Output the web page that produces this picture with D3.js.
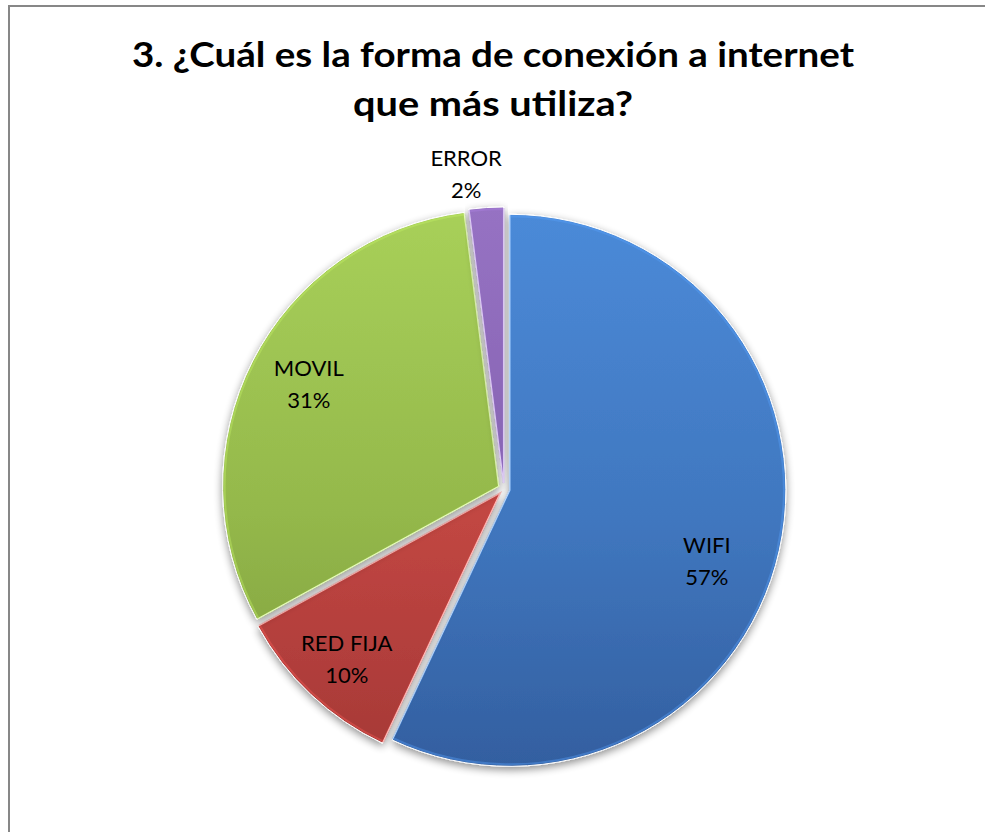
<!DOCTYPE html>
<html>
<head>
<meta charset="utf-8">
<script src="https://cdn.jsdelivr.net/npm/d3@7"></script>
<style>
  body { margin: 0; background: #fff; }
  svg { display: block; }
  text { font-family: Lato, "Open Sans", sans-serif; fill: #000; }
</style>
</head>
<body>
<svg></svg>
<script>
  var vWidth = 985;
  var vHeight = 832;

  // data
  var categories = ['WIFI', 'RED FIJA', 'MOVIL', 'ERROR'];
  var percents = [57, 10, 31, 2];
  var titleLines = ['3. \u00bfCu\u00e1l es la forma de conexi\u00f3n a internet', 'que m\u00e1s utiliza?'];

  // look
  var topColors = ['#4b8ad8', '#d8514b', '#a8d059', '#9672c3'];
  var bottomColors = ['#335fa0', '#a53836', '#7c9b3a', '#70509b'];
  var cx = 504, cy = 489, radius = 276, explode = 6;

  var svg = d3.select('svg')
    .attr('width', vWidth)
    .attr('height', vHeight);

  // frame (only top and left show in the crop)
  svg.append('path')
    .attr('d', 'M9,' + vHeight + 'V6H' + vWidth)
    .attr('fill', 'none')
    .attr('stroke', '#878787')
    .attr('stroke-width', 2);

  // title
  var titleW = [722, 280];
  var titleY = [67, 116];
  svg.selectAll('text.title')
    .data(titleLines)
    .enter().append('text')
    .attr('class', 'title')
    .attr('x', 493)
    .attr('y', function (d, i) { return titleY[i]; })
    .attr('text-anchor', 'middle')
    .attr('font-size', 35)
    .attr('font-weight', 'bold')
    .attr('textLength', function (d, i) { return titleW[i]; })
    .attr('lengthAdjust', 'spacingAndGlyphs')
    .text(function (d) { return d; });

  var defs = svg.append('defs');

  // gradients, in the pie group's own coordinates
  topColors.forEach(function (c, i) {
    var g = defs.append('linearGradient')
      .attr('id', 'grad' + i)
      .attr('gradientUnits', 'userSpaceOnUse')
      .attr('x1', 0).attr('y1', -radius)
      .attr('x2', 0).attr('y2', radius);
    g.append('stop').attr('offset', '0%').attr('stop-color', c);
    g.append('stop').attr('offset', '55%').attr('stop-color', d3.interpolateRgb(c, bottomColors[i])(0.45));
    g.append('stop').attr('offset', '100%').attr('stop-color', bottomColors[i]);
  });

  // soft drop shadow
  var f = defs.append('filter').attr('id', 'shade')
    .attr('x', '-10%').attr('y', '-10%').attr('width', '120%').attr('height', '120%');
  f.append('feGaussianBlur').attr('in', 'SourceAlpha').attr('stdDeviation', 4).attr('result', 'blur');
  f.append('feOffset').attr('in', 'blur').attr('dy', 3).attr('result', 'off');
  f.append('feComponentTransfer').attr('in', 'off').attr('result', 'shadow')
    .append('feFuncA').attr('type', 'linear').attr('slope', 0.45);
  var m = f.append('feMerge');
  m.append('feMergeNode').attr('in', 'shadow');
  m.append('feMergeNode').attr('in', 'SourceGraphic');

  var pie = d3.pie().sort(null).value(function (d) { return d; });
  var arcs = pie(percents);
  var arc = d3.arc().innerRadius(0).outerRadius(radius);
  var rim = d3.arc().innerRadius(0).outerRadius(radius - 2);

  function mid(d) { return (d.startAngle + d.endAngle) / 2; }

  var g = svg.append('g')
    .attr('transform', 'translate(' + cx + ',' + cy + ')');

  var slices = g.selectAll('g.slice')
    .data(arcs)
    .enter().append('g')
    .attr('class', 'slice')
    .attr('transform', function (d) {
      var a = mid(d);
      return 'translate(' + explode * Math.sin(a) + ',' + (-explode * Math.cos(a)) + ')';
    });

  slices.append('path')
    .attr('d', arc)
    .attr('fill', function (d, i) { return 'url(#grad' + i + ')'; })
    .attr('stroke', '#ffffff')
    .attr('stroke-width', 1)
    .attr('filter', 'url(#shade)');

  // faint bevel rim
  slices.append('path')
    .attr('d', rim)
    .attr('fill', 'none')
    .attr('stroke', function (d, i) { return d3.color(topColors[i]).brighter(0.4); })
    .attr('stroke-opacity', 0.4)
    .attr('stroke-width', 2);

  // labels: inside ones near 0.8 R, the small slice outside
  var labelR = [0.79, 0.86, 0.79, 1.12];
  var labelTurn = [0.155, -0.03, -0.01, -0.06];
  g.selectAll('text.lab')
    .data(arcs)
    .enter().append('text')
    .attr('class', 'lab')
    .attr('text-anchor', 'middle')
    .attr('font-size', 22)
    .each(function (d, i) {
      var a = mid(d) + labelTurn[i];
      var r = radius * labelR[i];
      var x = r * Math.sin(a);
      var y = -r * Math.cos(a);
      var t = d3.select(this);
      t.append('tspan').attr('x', x).attr('y', y - 16).text(categories[i]);
      t.append('tspan').attr('x', x).attr('y', y + 16).text(percents[i] + '%');
    });
</script>
</body>
</html>
